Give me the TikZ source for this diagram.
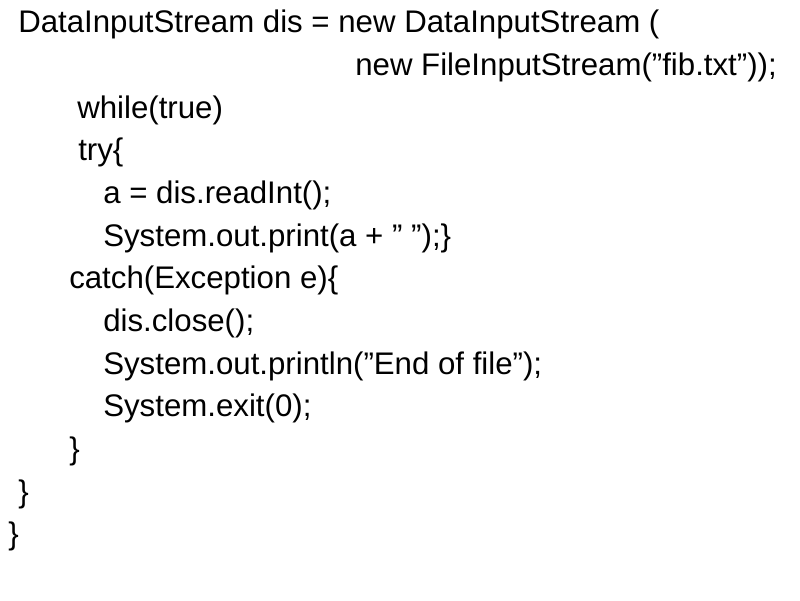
\documentclass[tikz,border=0pt]{standalone}
\usepackage{fontspec}
\setmainfont{Liberation Sans}
\newcommand{\dq}{\char34 }
\begin{document}
\begin{tikzpicture}[x=0.025cm,y=-0.025cm,
    codeline/.style={anchor=west,inner sep=0pt,font=\fontsize{22.2pt}{26pt}\selectfont}
]
    \useasboundingbox (0,0) rectangle (800,600);

    \node[codeline] (decl)   at (18,24)  {DataInputStream dis = new DataInputStream (};
    \node[codeline] (file)   at (355,67) {new FileInputStream(\dq fib.txt\dq));};
    \node[codeline] (loop)   at (77,110) {while(true)};
    \node[codeline] (try)    at (78,152) {try\{};
    \node[codeline] (read)   at (103,195) {a = dis.readInt();};
    \node[codeline] (print)  at (103,238) {System.out.print(a + \dq\ \dq);\}};
    \node[codeline] (catch)  at (69,280) {catch(Exception e)\{};
    \node[codeline] (close)  at (103,323) {dis.close();};
    \node[codeline] (eof)    at (103,366) {System.out.println(\dq End of file\dq);};
    \node[codeline] (exit)   at (103,408) {System.exit(0);};
    \node[codeline] (endc)   at (69,451) {\}};
    \node[codeline] (endm)   at (18,494) {\}};
    \node[codeline] (endcl)  at (8,536)  {\}};

\end{tikzpicture}
\end{document}
